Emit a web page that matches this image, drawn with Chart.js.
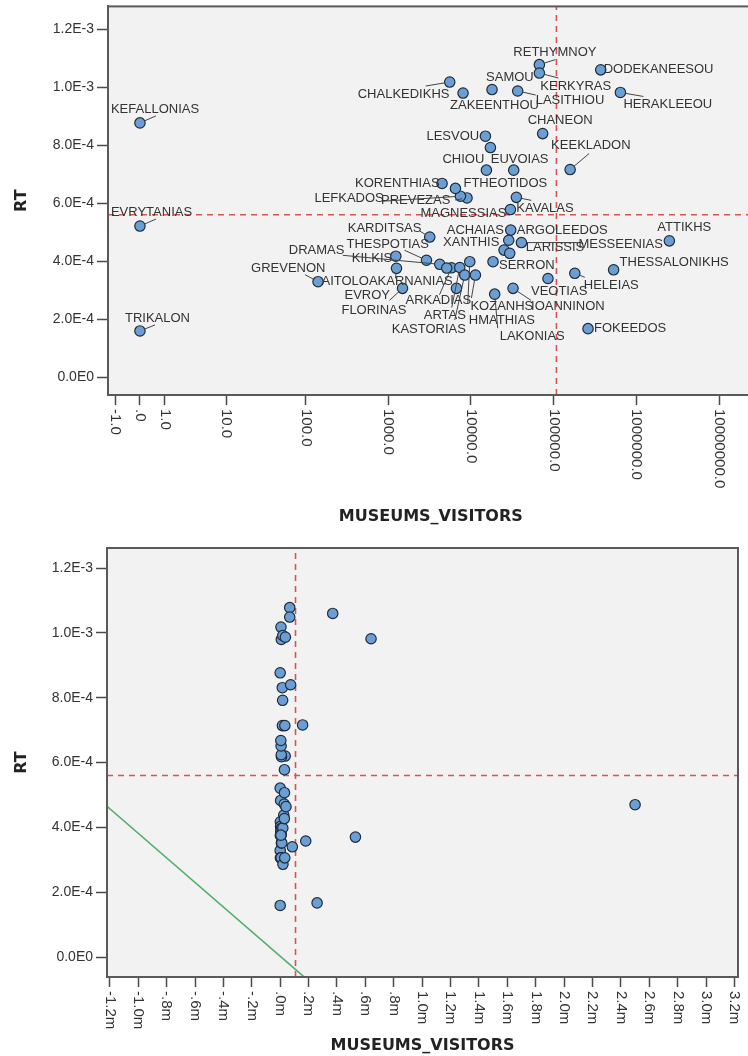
<!DOCTYPE html>
<html><head><meta charset="utf-8">
<script src="https://cdn.jsdelivr.net/npm/chart.js@4.4.1/dist/chart.umd.min.js"></script>
<style>
html,body{margin:0;padding:0;background:#fff;overflow:hidden;}
#w1{position:absolute;left:0;top:0;width:748px;height:530px;overflow:hidden;}
#w2{position:absolute;left:0;top:530px;width:748px;height:526px;overflow:hidden;}
canvas{display:block;}
</style></head><body>
<div id="w1"><canvas id="c1" width="760" height="530"></canvas></div>
<div id="w2"><canvas id="c2" width="748" height="526"></canvas></div>
<script>
// ---------- DATA ----------
const prefectures = ["KEFALLONIAS","EVRYTANIAS","TRIKALON","GREVENON","KILKIS","AITOLOAKARNANIAS","EVROY","KARDITSAS","THESPOTIAS","DRAMAS",
 "ARKADIAS","FLORINAS","ARTAS","KASTORIAS","HMATHIAS","KOZANHS","SERRON","LAKONIAS","IOANNINON","VEOTIAS",
 "ARGOLEEDOS","ACHAIAS","XANTHIS","LARISSIS","MESSEENIAS","ATTIKHS","THESSALONIKHS","HELEIAS","FOKEEDOS","MAGNESSIAS",
 "KAVALAS","PREVEZAS","LEFKADOS","FTHEOTIDOS","KORENTHIAS","CHIOU","EUVOIAS","LESVOU","","KEEKLADON",
 "CHANEON","CHALKEDIKHS","ZAKEENTHOU","SAMOU","LASITHIOU","RETHYMNOY","KERKYRAS","DODEKANEESOU","HERAKLEEOU",""];
const visitors = [0,0,0,141,1236,1259,1489,3178,2902,4199,
 5816,6681,7325,8414,9680,11330,18490,19370,32270,85310,
 30270,28630,25120,29430,40740,2500000,530000,180000,260000,30000,
 35400,8970,7465,6500,4477,15380,32890,14960,17200,158000,
 73600,5540,8030,17990,36730,67150,67150,370000,640000,5100];
const rtValues = [8.77e-4,5.21e-4,1.59e-4,3.29e-4,4.17e-4,3.75e-4,3.06e-4,4.83e-4,4.03e-4,3.89e-4,
 3.77e-4,3.06e-4,3.78e-4,3.52e-4,3.98e-4,3.52e-4,3.98e-4,2.86e-4,3.06e-4,3.40e-4,
 5.07e-4,4.72e-4,4.38e-4,4.27e-4,4.64e-4,4.70e-4,3.70e-4,3.58e-4,1.67e-4,5.78e-4,
 6.20e-4,6.18e-4,6.24e-4,6.51e-4,6.68e-4,7.14e-4,7.14e-4,8.31e-4,7.92e-4,7.16e-4,
 8.40e-4,1.018e-3,9.80e-4,9.92e-4,9.87e-4,1.078e-3,1.049e-3,1.06e-3,9.82e-4,3.76e-4];
const logTickValues = [-1,0,1,10,100,1000,10000,100000,1000000,10000000];
const logTickLabels = ["-1.0",".0","1.0","10.0","100.0","1000.0","10000.0","100000.0","1000000.0","10000000.0"];
const linTickValues = [-1200000,-1000000,-800000,-600000,-400000,-200000,0,200000,400000,600000,800000,1000000,1200000,1400000,1600000,1800000,2000000,2200000,2400000,2600000,2800000,3000000,3200000];
const linTickLabels = ["-1.2m","-1.0m","-.8m","-.6m","-.4m","-.2m",".0m",".2m",".4m",".6m",".8m","1.0m","1.2m","1.4m","1.6m","1.8m","2.0m","2.2m","2.4m","2.6m","2.8m","3.0m","3.2m"];
const rtTickValues = [0,2e-4,4e-4,6e-4,8e-4,1.0e-3,1.2e-3];
const rtTickLabels = ["0.0E0","2.0E-4","4.0E-4","6.0E-4","8.0E-4","1.0E-3","1.2E-3"];
const meanVisitors = 108000;
const meanRT = 5.6e-4;
const refLineX = [-1220000, 170000];
const refLineY = [4.65e-4, -6.2e-5];

// ---------- LAYOUT / STYLE ----------
// label placement: [dx, dy, leaderEndX, leaderEndY] relative to point (px)
const labelPlacement = {
 KEFALLONIAS:[-29,-13,16,-7], EVRYTANIAS:[-29,-14,16,-7], TRIKALON:[-15,-13,15,-6], GREVENON:[-67,-13,-13,-7],
 KILKIS:[-44,2], AITOLOAKARNANIAS:[-75,13,-1,10], EVROY:[-58,7,-13,12], KARDITSAS:[-82,-9,-10,-6],
 THESPOTIAS:[-80,-16,-22,-10], DRAMAS:[-151,-14,-97,-9], ARKADIAS:[-46,33,-12,27], FLORINAS:[-115,22],
 ARTAS:[-36,48,-8,40], KASTORIAS:[-73,54,-10,45], HMATHIAS:[-1,59,-2,42], KOZANHS:[-5,31,-4,23],
 SERRON:[6,4], LAKONIAS:[5,42,3,34], IOANNINON:[18,18,18,12], VEOTIAS:[-17,13],
 ARGOLEEDOS:[6,0], ACHAIAS:[-62,-10], XANTHIS:[-61,-8], LARISSIS:[16,-6], MESSEENIAS:[57,2,57,0],
 ATTIKHS:[-12,-13], THESSALONIKHS:[6,-7], HELEIAS:[9,12,10,4], FOKEEDOS:[6,0], MAGNESSIAS:[-90,4],
 KAVALAS:[0,11,15,3], PREVEZAS:[-86,2,-12,2], LEFKADOS:[-146,2,-78,5], FTHEOTIDOS:[8,-5], KORENTHIAS:[-87,0],
 CHIOU:[-44,-11], EUVOIAS:[-23,-11], LESVOU:[-59,0], KEEKLADON:[-19,-24,19,-16], CHANEON:[-15,-13],
 CHALKEDIKHS:[-92,12,-24,4], ZAKEENTHOU:[-13,12], SAMOU:[-6,-12], LASITHIOU:[18,9,18,4],
 RETHYMNOY:[-26,-12,16,-5], KERKYRAS:[1,13,19,5], DODEKANEESOU:[3,0], HERAKLEEOU:[3,12,23,4]
};
const POINT_FILL = '#6b9fd3', POINT_EDGE = '#1e2c3c';
const DASH_RED = '#d9534f', GREEN = '#4db06a';
const AX = '#4a4a4a';

const slog = v => Math.sign(v) * Math.log10(1 + Math.abs(v));

const framePlugin = {
  id: 'frame',
  beforeDraw(chart) {
    const {ctx, chartArea: a} = chart;
    ctx.save();
    ctx.fillStyle = '#ffffff'; ctx.fillRect(0, 0, chart.width, chart.height);
    ctx.fillStyle = '#f2f2f2'; ctx.fillRect(a.left, a.top, a.right - a.left, a.bottom - a.top);
    ctx.restore();
  },
  afterDraw(chart) {
    const {ctx, chartArea: a} = chart;
    ctx.save();
    ctx.strokeStyle = '#5a5a5a'; ctx.lineWidth = 2;
    ctx.strokeRect(a.left, a.top, a.right - a.left, a.bottom - a.top);
    // rotated x tick labels (reading downward)
    const xs = chart.scales.x, labels = chart.options.plugins.frame.xLabels;
    ctx.fillStyle = '#333'; ctx.font = '15px "Liberation Sans", Arial, sans-serif';
    ctx.textAlign = 'left'; ctx.textBaseline = 'middle';
    xs.ticks.forEach((t, i) => {
      const px = xs.getPixelForValue(t.value);
      ctx.save(); ctx.translate(px, a.bottom + 14); ctx.rotate(Math.PI / 2);
      ctx.fillText(labels[i], 0, 0); ctx.restore();
    });
    ctx.restore();
  }
};

const pointLabelPlugin = {
  id: 'plabels',
  afterDatasetsDraw(chart) {
    const {ctx} = chart;
    const meta = chart.getDatasetMeta(0);
    ctx.save();
    ctx.font = '13px "Liberation Sans", Arial, sans-serif';
    ctx.fillStyle = '#333'; ctx.strokeStyle = '#444'; ctx.lineWidth = 1;
    ctx.textAlign = 'left'; ctx.textBaseline = 'middle';
    prefectures.forEach((name, i) => {
      const p = labelPlacement[name];
      if (!name || !p) return;
      const el = meta.data[i];
      if (p.length > 2) {
        const ang = Math.atan2(p[3], p[2]);
        ctx.beginPath();
        ctx.moveTo(el.x + 5 * Math.cos(ang), el.y + 5 * Math.sin(ang));
        ctx.lineTo(el.x + p[2], el.y + p[3]);
        ctx.stroke();
      }
      ctx.fillText(name, el.x + p[0], el.y + p[1]);
    });
    ctx.restore();
  }
};

function yScale(min, max, width) {
  return {
    type: 'linear', min, max, bounds: 'data',
    afterBuildTicks: s => { s.ticks = rtTickValues.map(v => ({value: v})); },
    ticks: { callback: (v, i) => rtTickLabels[i], font: {family: '"Liberation Sans", Arial', size: 14}, color: '#333', padding: 3 },
    grid: { drawOnChartArea: false, drawTicks: true, tickLength: 11, tickColor: AX, tickWidth: 1.5 },
    border: { display: true, color: '#5a5a5a', width: 2 },
    title: { display: true, text: 'RT', color: '#222', font: {family: '"DejaVu Sans", sans-serif', size: 16, weight: 'bold'}, padding: {top: 12, bottom: 0} },
    afterFit: s => { s.width = width; s.paddingTop = 0; s.paddingBottom = 0; }
  };
}
function xScale(min, max, tickVals, height, titlePad) {
  return {
    type: 'linear', min, max, bounds: 'data',
    afterBuildTicks: s => { s.ticks = tickVals.map(v => ({value: v})); },
    ticks: { display: false },
    grid: { drawOnChartArea: false, drawTicks: true, tickLength: 10, tickColor: AX, tickWidth: 1.5 },
    border: { display: true, color: '#5a5a5a', width: 2 },
    title: { display: true, text: 'MUSEUMS_VISITORS', color: '#222', font: {family: '"DejaVu Sans", sans-serif', size: 16, weight: 'bold'}, padding: {top: 0, bottom: titlePad} },
    afterFit: s => { s.height = height; s.paddingLeft = 0; s.paddingRight = 0; }
  };
}
const pointStyle = { pointRadius: 5.2, pointBackgroundColor: POINT_FILL, pointBorderColor: POINT_EDGE, pointBorderWidth: 1.2, showLine: false };
const dashStyle = { showLine: true, borderColor: DASH_RED, borderWidth: 1.6, borderDash: [6, 5], pointRadius: 0, fill: false };
const common = { responsive: false, animation: false, events: [],
  plugins: { legend: {display: false}, tooltip: {enabled: false}, title: {display: false} } };

// ---------- TOP CHART (log-type axis) ----------
const t1 = {xmin: -0.386, xmax: 7.416, ymin: -6.2e-5, ymax: 1.279e-3};
new Chart(document.getElementById('c1'), {
  type: 'scatter',
  data: { datasets: [
    Object.assign({ data: visitors.map((v, i) => ({x: slog(v), y: rtValues[i]})) }, pointStyle),
    Object.assign({ data: [{x: t1.xmin, y: meanRT}, {x: t1.xmax, y: meanRT}] }, dashStyle),
    Object.assign({ data: [{x: slog(meanVisitors), y: t1.ymin}, {x: slog(meanVisitors), y: t1.ymax}] }, dashStyle)
  ]},
  options: Object.assign({}, common, {
    layout: { padding: {top: 6, left: 0, right: 0, bottom: 0} },
    scales: { x: xScale(t1.xmin, t1.xmax, logTickValues.map(slog), 135, 4), y: yScale(t1.ymin, t1.ymax, 108) },
    plugins: Object.assign({}, common.plugins, { frame: { xLabels: logTickLabels } })
  }),
  plugins: [framePlugin, pointLabelPlugin]
});

// ---------- BOTTOM CHART (linear axis) ----------
const t2 = {xmin: -1220000, xmax: 3225000, ymin: -6.17e-5, ymax: 1.262e-3};
new Chart(document.getElementById('c2'), {
  type: 'scatter',
  data: { datasets: [
    Object.assign({ data: visitors.map((v, i) => ({x: v, y: rtValues[i]})) }, pointStyle),
    Object.assign({ data: [{x: t2.xmin, y: meanRT}, {x: t2.xmax, y: meanRT}] }, dashStyle),
    Object.assign({ data: [{x: meanVisitors, y: t2.ymin}, {x: meanVisitors, y: t2.ymax}] }, dashStyle),
    { data: refLineX.map((x, i) => ({x, y: refLineY[i]})), showLine: true, borderColor: GREEN, borderWidth: 1.6, pointRadius: 0, fill: false }
  ]},
  options: Object.assign({}, common, {
    layout: { padding: {top: 18, left: 0, right: 10, bottom: 0} },
    scales: { x: xScale(t2.xmin, t2.xmax, linTickValues, 79, 1), y: yScale(t2.ymin, t2.ymax, 107) },
    plugins: Object.assign({}, common.plugins, { frame: { xLabels: linTickLabels } })
  }),
  plugins: [framePlugin]
});
</script>
</body></html>
